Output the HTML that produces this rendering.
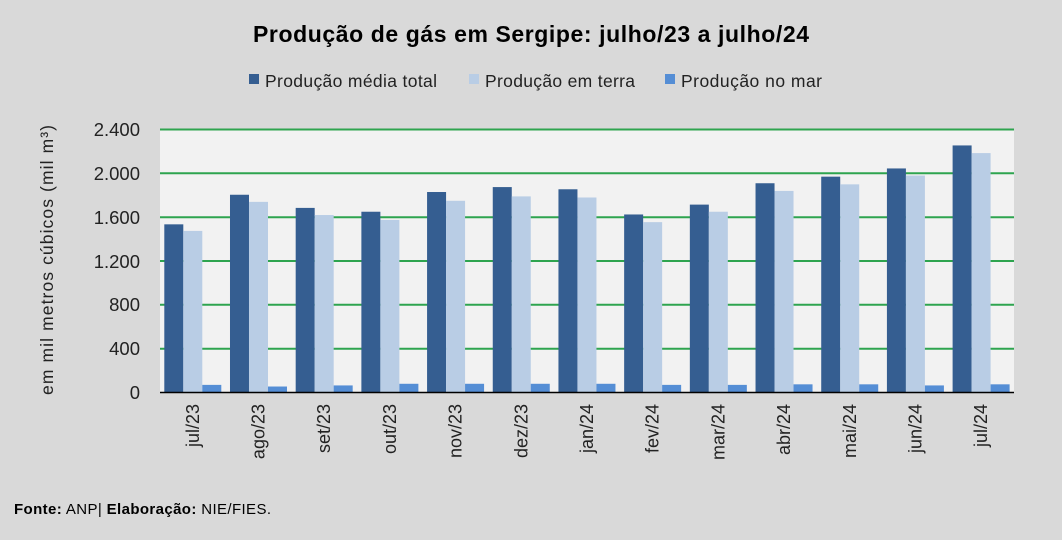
<!DOCTYPE html>
<html><head><meta charset="utf-8"><style>
body{margin:0;background:#d9d9d9;}
svg{display:block;font-family:"Liberation Sans","DejaVu Sans",sans-serif;}
</style></head><body>
<svg width="1062" height="540" viewBox="0 0 1062 540" xmlns="http://www.w3.org/2000/svg">
<rect width="1062" height="540" fill="#d9d9d9"/>
<text x="531" y="42" text-anchor="middle" font-size="23" font-weight="bold" fill="#000" textLength="556">Produção de gás em Sergipe: julho/23 a julho/24</text>
<rect x="249" y="74" width="10" height="10" fill="#355e91"/>
<text x="265" y="87" font-size="17.5" fill="#222" textLength="172">Produção média total</text>
<rect x="469" y="74" width="10" height="10" fill="#b9cde5"/>
<text x="485" y="87" font-size="17.5" fill="#222" textLength="150">Produção em terra</text>
<rect x="665" y="74" width="10" height="10" fill="#558ed5"/>
<text x="681" y="87" font-size="17.5" fill="#222" textLength="141">Produção no mar</text>
<rect x="160" y="129" width="854" height="263" fill="#f2f2f2"/>
<g stroke="#2ea44f" stroke-width="2">
<line x1="160" x2="1014" y1="129.5" y2="129.5"/>
<line x1="160" x2="1014" y1="173.3" y2="173.3"/>
<line x1="160" x2="1014" y1="217.2" y2="217.2"/>
<line x1="160" x2="1014" y1="261" y2="261"/>
<line x1="160" x2="1014" y1="304.8" y2="304.8"/>
<line x1="160" x2="1014" y1="348.7" y2="348.7"/>
</g>
<g font-size="18.5" fill="#222" text-anchor="end">
<text x="140" y="136">2.400</text><text x="140" y="180">2.000</text><text x="140" y="224">1.600</text>
<text x="140" y="268">1.200</text><text x="140" y="311">800</text><text x="140" y="355">400</text><text x="140" y="399">0</text>
</g>
<text transform="translate(53,260) rotate(-90)" text-anchor="middle" font-size="17.5" fill="#222" textLength="270">em mil metros cúbicos (mil m³)</text>
<g id="bars"></g>
<line x1="160" x2="1014" y1="392.5" y2="392.5" stroke="#000" stroke-width="1.5"/>
<g id="labels" font-size="18" fill="#222"></g>
<text x="14" y="514" font-size="15" fill="#000" textLength="257"><tspan font-weight="bold">Fonte:</tspan> ANP| <tspan font-weight="bold">Elaboração:</tspan> NIE/FIES.</text>
<script>
var d=[[1530,1470,65,"jul/23"],[1800,1735,50,"ago/23"],[1680,1615,60,"set/23"],[1645,1570,75,"out/23"],[1825,1745,75,"nov/23"],[1870,1785,75,"dez/23"],[1850,1775,75,"jan/24"],[1620,1550,65,"fev/24"],[1710,1645,65,"mar/24"],[1905,1835,70,"abr/24"],[1965,1895,70,"mai/24"],[2040,1975,60,"jun/24"],[2250,2180,70,"jul/24"]];
var c=["#355e91","#b9cde5","#558ed5"],ns="http://www.w3.org/2000/svg",b=document.getElementById("bars"),l=document.getElementById("labels");
var gw=854/13;
d.forEach(function(r,i){var x0=160+i*gw+4.3;
for(var k=0;k<3;k++){var h=r[k]*263/2400;var e=document.createElementNS(ns,"rect");
e.setAttribute("x",x0+k*19);e.setAttribute("width",19);e.setAttribute("y",392-h);e.setAttribute("height",h);e.setAttribute("fill",c[k]);b.appendChild(e);}
var t=document.createElementNS(ns,"text");var cx=160+i*gw+gw/2+6;
t.setAttribute("transform","translate("+cx+",404) rotate(-90)");t.setAttribute("text-anchor","end");t.textContent=r[3];l.appendChild(t);});
</script>
</svg>
</body></html>
